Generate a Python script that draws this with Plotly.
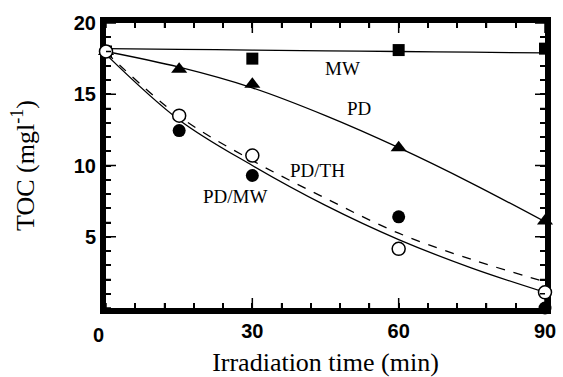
import plotly.graph_objects as go

# measured points
time = [0, 15, 30, 60, 90]
mw_time = [0, 30, 60, 90]
mw_toc = [18.0, 17.5, 18.1, 18.2]
pd_toc = [18.0, 16.75, 15.7, 11.25, 6.1]
pdth_toc = [18.0, 13.5, 10.7, 4.15, 1.1]
pdmw_toc = [18.0, 12.45, 9.3, 6.4, 0.0]

# fitted curves
fit_time = [0, 15, 30, 45, 60, 75, 90]
mw_fit = [18.2, 18.15, 18.1, 18.05, 18.0, 17.95, 17.9]
pd_fit = [18.0, 16.9, 15.45, 13.5, 11.25, 8.75, 6.05]
pdth_fit = [17.95, 13.45, 10.35, 7.7, 5.25, 3.4, 1.85]
pdmw_fit = [17.8, 13.2, 10.0, 7.2, 4.8, 2.8, 1.1]

x_major = [30, 60, 90]
y_major = [5, 10, 15, 20]
x_all = list(range(0, 91, 6))
y_all = list(range(0, 21, 1))
x_text = [str(v) if v in x_major else "" for v in x_all]
y_text = [str(v) if v in y_major else "" for v in y_all]

labels = ["MW", "PD", "PD/TH", "PD/MW"]
label_x = [48.5, 51.8, 43.4, 26.5]
label_y = [16.8, 14.0, 9.65, 7.8]

fig = go.Figure()

for fy, dash in [(mw_fit, "solid"), (pd_fit, "solid"), (pdth_fit, "dash"), (pdmw_fit, "solid")]:
    fig.add_trace(go.Scatter(x=fit_time, y=fy, mode="lines",
                             line=dict(color="black", width=1.3, dash=dash, shape="spline"),
                             showlegend=False, hoverinfo="skip", cliponaxis=False))

fig.add_trace(go.Scatter(x=mw_time, y=mw_toc, mode="markers",
                         marker=dict(symbol="square", size=12, color="black"),
                         showlegend=False, cliponaxis=False))
fig.add_trace(go.Scatter(x=time, y=pd_toc, mode="markers",
                         marker=dict(symbol="triangle-up", size=14, color="black"),
                         showlegend=False, cliponaxis=False))
fig.add_trace(go.Scatter(x=time, y=pdmw_toc, mode="markers",
                         marker=dict(symbol="circle", size=13, color="black"),
                         showlegend=False, cliponaxis=False))
fig.add_trace(go.Scatter(x=time, y=pdth_toc, mode="markers",
                         marker=dict(symbol="circle", size=13, color="white",
                                     line=dict(color="black", width=1.5)),
                         showlegend=False, cliponaxis=False))

for t, lx, ly in zip(labels, label_x, label_y):
    fig.add_annotation(x=lx, y=ly, text=t, showarrow=False,
                       font=dict(family="Liberation Serif", size=19, color="black"))

tickfont = dict(family="Liberation Sans", size=20, color="black", weight="bold")
titlefont = dict(family="Liberation Serif", size=26, color="black")

# "0" tick label, slightly left of the origin as in the reference
fig.add_annotation(x=0, y=0, xref="x", yref="paper", text="0", showarrow=False,
                   xanchor="center", yanchor="top", xshift=-8, yshift=-14,
                   font=tickfont)

# tick marks on all four sides (inward), positioned by the axis scales
tick_line = dict(color="black", width=1.5)
for v in x_all:
    ln = 10 if v in x_major else 5
    for anchor, sgn in [(0, 1), (1, -1)]:
        fig.add_shape(type="line", xref="x", yref="paper", ysizemode="pixel",
                      yanchor=anchor, x0=v, x1=v, y0=0, y1=sgn * ln,
                      line=tick_line, layer="above")
for v in y_all:
    ln = 10 if v in y_major else 5
    for anchor, sgn in [(0, 1), (1, -1)]:
        fig.add_shape(type="line", xref="paper", yref="y", xsizemode="pixel",
                      xanchor=anchor, x0=0, x1=sgn * ln, y0=v, y1=v,
                      line=tick_line, layer="above")

fig.update_layout(
    width=563, height=377, margin=dict(l=106, r=13, t=22, b=69),
    plot_bgcolor="rgba(0,0,0,0)", paper_bgcolor="white",
    xaxis=dict(range=[0, 90], tickmode="array", tickvals=x_all, ticktext=x_text,
               ticks="inside", ticklen=5, tickwidth=1.5, tickcolor="black",
               showline=True, linewidth=6, linecolor="black", mirror="ticks",
               showgrid=False, zeroline=False, layer="below traces",
               automargin=False, ticklabeloverflow="allow", tickfont=tickfont,
               title=dict(text="Irradiation time (min)", font=titlefont, standoff=14)),
    yaxis=dict(range=[0, 20], tickmode="array", tickvals=y_all, ticktext=y_text,
               ticks="inside", ticklen=5, tickwidth=1.5, tickcolor="black",
               showline=True, linewidth=6, linecolor="black", mirror="ticks",
               showgrid=False, zeroline=False, layer="below traces",
               automargin=True, tickfont=tickfont,
               title=dict(text="TOC (mgl<sup>-1</sup>)", font=titlefont, standoff=34)),
)

fig.write_html("out.html", config={"displayModeBar": False},
               post_script="document.body.style.margin='0';")
